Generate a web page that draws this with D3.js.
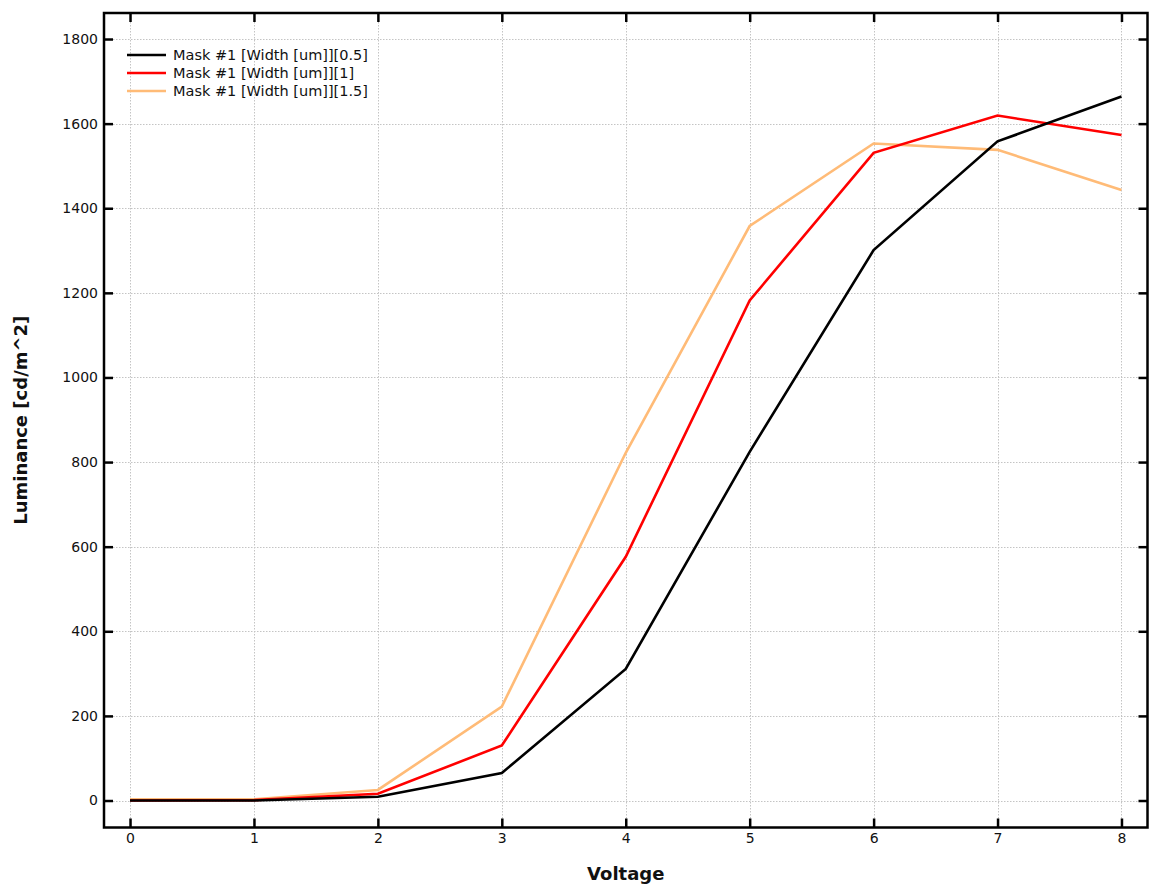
<!DOCTYPE html>
<html>
<head>
<meta charset="utf-8">
<script src="https://cdn.jsdelivr.net/npm/d3@7"></script>
<style>
  html, body { margin: 0; padding: 0; background: #fff; }
  svg { display: block; }
  text { font-family: "DejaVu Sans", Verdana, sans-serif; }
</style>
</head>
<body>
<div id="chart"></div>
<script>
// Data
const voltage = [0, 1, 2, 3, 4, 5, 6, 7, 8];
const seriesNames = ["Mask #1 [Width [um]][0.5]", "Mask #1 [Width [um]][1]", "Mask #1 [Width [um]][1.5]"];
const seriesColors = ["#000000", "#ff0000", "#ffbb77"];
const lum05 = [0, 0, 9, 65, 311, 824, 1301, 1558, 1664];
const lum1  = [0, 1, 16, 130, 576, 1182, 1531, 1619, 1573];
const lum15 = [3, 3, 25, 222, 822, 1358, 1553, 1538, 1443];
const xTicks = [0, 1, 2, 3, 4, 5, 6, 7, 8];
const yTicks = [0, 200, 400, 600, 800, 1000, 1200, 1400, 1600, 1800];
const xTitle = "Voltage";
const yTitle = "Luminance [cd/m^2]";

const W = 1161, H = 890;
const L = 104, T = 13, R = 1147.5, B = 827.5;

const svg = d3.select("#chart").append("svg").attr("width", W).attr("height", H);

const x = d3.scaleLinear().domain([-0.21, 8.21]).range([L, R]);
const y = d3.scaleLinear().domain([-63.8, 1861.5]).range([B, T]);

// Grid
const grid = svg.append("g").attr("stroke", "#c4c4c4").attr("stroke-width", 1).attr("stroke-dasharray", "1.5,1.5");
grid.selectAll(".vx").data(xTicks).join("line")
  .attr("x1", d => Math.round(x(d)) + 0.5).attr("x2", d => Math.round(x(d)) + 0.5)
  .attr("y1", T).attr("y2", B);
grid.selectAll(".hy").data(yTicks).join("line")
  .attr("y1", d => Math.round(y(d)) + 0.5).attr("y2", d => Math.round(y(d)) + 0.5)
  .attr("x1", L).attr("x2", R);

// Lines
const lineGen = d3.line().x((d, i) => x(voltage[i])).y(d => y(d));
const allSeries = [lum05, lum1, lum15];
[2, 1, 0].forEach(k => {
  svg.append("path").datum(allSeries[k])
    .attr("fill", "none").attr("stroke", seriesColors[k]).attr("stroke-width", 2.6)
    .attr("stroke-linejoin", "miter").attr("d", lineGen);
});

// Axes with inward ticks
const tickLen = 9;
const fmt = d3.format("d");
const axB = d3.axisBottom(x).tickValues(xTicks).tickFormat(fmt).tickSizeInner(-tickLen).tickSizeOuter(0).tickPadding(14);
const axL = d3.axisLeft(y).tickValues(yTicks).tickFormat(fmt).tickSizeInner(-tickLen).tickSizeOuter(0).tickPadding(14);
const axT = d3.axisTop(x).tickValues(xTicks).tickSizeInner(-tickLen).tickSizeOuter(0).tickFormat("");
const axR = d3.axisRight(y).tickValues(yTicks).tickSizeInner(-tickLen).tickSizeOuter(0).tickFormat("");

function styleAxis(g) {
  g.attr("font-size", 14).attr("font-family", "'DejaVu Sans', Verdana, sans-serif");
  g.select(".domain").remove();
  g.selectAll(".tick line").attr("stroke", "#000").attr("stroke-width", 2.5);
  g.selectAll(".tick text").attr("fill", "#111");
}
svg.append("g").attr("class", "axb").attr("transform", `translate(0,${B})`).call(axB).call(styleAxis);
svg.append("g").attr("class", "axl").attr("transform", `translate(${L},0)`).call(axL).call(styleAxis);
svg.append("g").attr("transform", `translate(0,${T})`).call(axT).call(styleAxis);
svg.append("g").attr("transform", `translate(${R},0)`).call(axR).call(styleAxis);
svg.select(".axb").selectAll(".tick text").attr("y", 6).attr("dy", "0.71em");
svg.select(".axl").selectAll(".tick text").attr("x", -6);

// Frame
svg.append("rect").attr("x", L).attr("y", T).attr("width", R - L).attr("height", B - T)
  .attr("fill", "none").attr("stroke", "#000").attr("stroke-width", 2.5);

// Titles
svg.append("text").attr("x", (L + R) / 2).attr("y", 880).attr("text-anchor", "middle")
  .style("font-size", "18px").style("font-weight", "bold").attr("fill", "#111").text(xTitle);
svg.append("text").attr("transform", `translate(27,${(T + B) / 2}) rotate(-90)`).attr("text-anchor", "middle")
  .style("font-size", "18px").style("font-weight", "bold").attr("fill", "#111").text(yTitle);

// Legend
const leg = svg.append("g");
seriesNames.forEach((name, i) => {
  const yy = 55 + i * 18;
  leg.append("line").attr("x1", 127).attr("x2", 166).attr("y1", yy).attr("y2", yy)
    .attr("stroke", seriesColors[i]).attr("stroke-width", 2.6);
  leg.append("text").attr("x", 173).attr("y", yy).attr("dy", "0.35em")
    .style("font-size", "14.5px").attr("fill", "#111").text(name);
});
</script>
</body>
</html>
